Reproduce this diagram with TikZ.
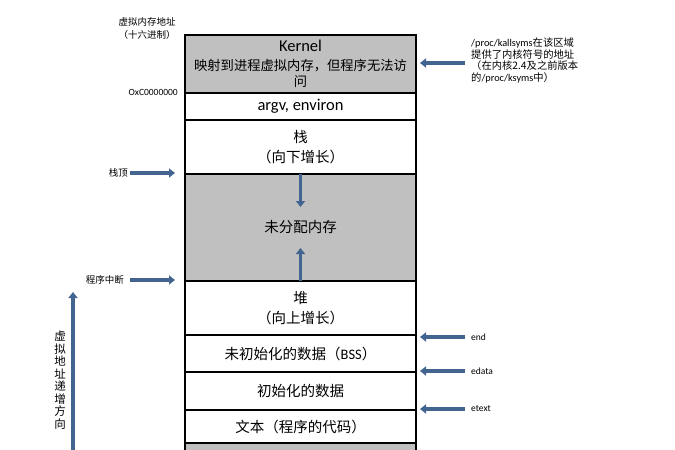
\documentclass[tikz,border=0pt]{standalone}
\usepackage{fontspec}
\setmainfont{Carlito}
\newfontfamily\cjk{Noto Sans CJK SC}
\usetikzlibrary{positioning,arrows.meta}
\definecolor{segfill}{RGB}{192,192,192}
\definecolor{ptrblue}{RGB}{66,100,143}

\begin{document}
\begin{tikzpicture}[x=1pt, y=1pt,
            seg/.style={draw, line width=1.5pt, minimum width=231pt, outer sep=0pt,
                inner sep=0pt, align=center, font=\cjk\fontsize{14.5}{20}\selectfont},
            freeseg/.style={seg, fill=segfill},
            ptr/.style={draw=ptrblue, line width=3.5pt, -{Triangle[length=6pt,width=9pt]}},
            tag/.style={inner sep=0pt, font=\fontsize{9.5}{11}\selectfont},
            cjktag/.style={tag, font=\cjk\fontsize{9.5}{13}\selectfont},
            node distance=0pt]
        \clip (0,0) rectangle (675,-450);

        \node (kernel) [freeseg, minimum height=58pt, font=\cjk\fontsize{13.3}{16}\selectfont]
            at (300.5,-64)
            {{\rmfamily\fontsize{16.5}{18}\selectfont Kernel}\\[2.5pt]
             映射到进程虚拟内存，但程序无法访\\问};
        \node (argv) [seg, minimum height=27pt, below=of kernel]
            {\rmfamily\fontsize{16.5}{18}\selectfont argv, environ};
        \node (stack) [seg, minimum height=54pt, below=of argv] {栈\\（向下增长）};
        \node (free) [freeseg, minimum height=107pt, below=of stack] {未分配内存};
        \node (heap) [seg, minimum height=54pt, below=of free] {堆\\（向上增长）};
        \node (bss) [seg, minimum height=37pt, below=of heap]
            {未初始化的数据（{\rmfamily BSS}）};
        \node (data) [seg, minimum height=38pt, below=of bss] {初始化的数据};
        \node (text) [seg, minimum height=33pt, below=of data] {文本（程序的代码）};
        \node (low) [freeseg, minimum height=40pt, below=of text] {};

        % growth of stack and heap
        \draw [ptr] (stack.south) -- ++(0,-33);
        \draw [ptr] (free.south) -- ++(0,33);

        % left side
        \node (addr) [cjktag, align=center] at (147,-28) {虚拟内存地址\\（十六进制）};
        \node (base) [tag, anchor=east] at (178,-92) {OxC0000000};
        \node (sp) [cjktag, anchor=east] at (128,-173) {栈顶};
        \node (brk) [cjktag, anchor=east] at (124,-280) {程序中断};
        \draw [ptr, shorten >=10pt] ([xshift=2pt]sp.east) -- (sp.east -| stack.west);
        \draw [ptr, shorten >=10pt] ([xshift=6pt]brk.east) -- (brk.east -| heap.west);

        \coordinate (up0) at (73,-460);
        \coordinate (up1) at (73,-292);
        \draw [ptr] (up0) -- (up1);
        \node (dir) [inner sep=0pt, align=center, font=\cjk\fontsize{11.5}{12.5}\selectfont]
            at (60,-380) {虚\\拟\\地\\址\\递\\增\\方\\向};

        % right side
        \node (ksyms) [cjktag, anchor=north west, align=left,
            font=\cjk\fontsize{10.3}{11.5}\selectfont] at (471,-38)
            {{\rmfamily /proc/kallsyms}在该区域\\提供了内核符号的地址\\（在内核2.4及之前版本\\的{\rmfamily /proc/ksyms}中）};
        \coordinate (kptr) at (465,-63);
        \draw [ptr, shorten >=4pt] (kptr) -- (kptr -| kernel.east);

        \node (end) [tag, anchor=west] at (471,-337) {end};
        \node (edata) [tag, anchor=west] at (471,-371) {edata};
        \node (etext) [tag, anchor=west] at (471,-409) {etext};
        \foreach \n in {end, edata, etext}
            \draw [ptr, shorten >=4pt] ([xshift=-6pt]\n.west) -- (\n.west -| heap.east);
\end{tikzpicture}
\end{document}
